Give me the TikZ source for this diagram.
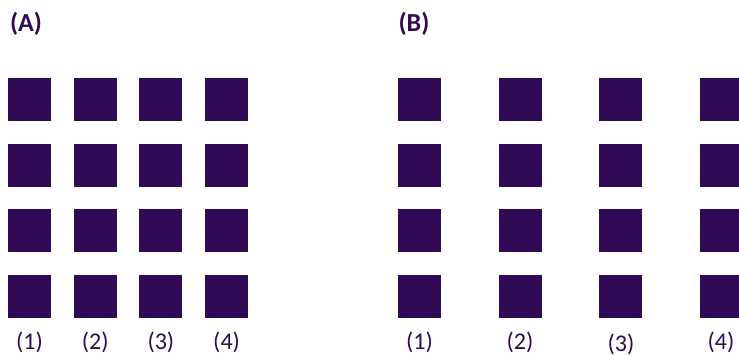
\documentclass[tikz,border=0pt]{standalone}
\usepackage{fontspec}
\setmainfont{Carlito}
\usetikzlibrary{positioning}
\definecolor{gridpurple}{RGB}{48,10,84}
\tikzset{
  cell/.style={rectangle, fill=gridpurple, minimum size=43pt, inner sep=0pt},
  collabel/.style={text=gridpurple, inner sep=0pt, font=\fontsize{24}{26}\selectfont},
  panel/.style={text=gridpurple, inner sep=0pt, font=\bfseries\fontsize{26}{28}\selectfont}
}

\begin{document}
\begin{tikzpicture}[x=1pt, y=-1pt]
  \useasboundingbox (0,0) rectangle (739,356);
  \node[panel] (pa) at (26,24)  {(A)};
  \node[panel] (pb) at (414,24) {(B)};
  % panel A: tight grid, panel B: wide columns
  \foreach \c in {1,...,4} {
    \foreach \r in {1,...,4} {
      \node[cell] (a\r\c) at ({29.5+65.7*(\c-1)}, {99.5+65.7*(\r-1)}) {};
      \node[cell] (b\r\c) at ({419.5+100.5*(\c-1)}, {99.5+65.7*(\r-1)}) {};
    }
    \node[collabel] (la\c) at ({29.5+65.7*(\c-1)}, 342) {(\c)};
  }
  \node[collabel] (lb1) at (419.5,342) {(1)};
  \node[collabel] (lb2) at (520,342)   {(2)};
  \node[collabel] (lb3) at (621,344)   {(3)};
  \node[collabel] (lb4) at (721,342)   {(4)};
\end{tikzpicture}
\end{document}
